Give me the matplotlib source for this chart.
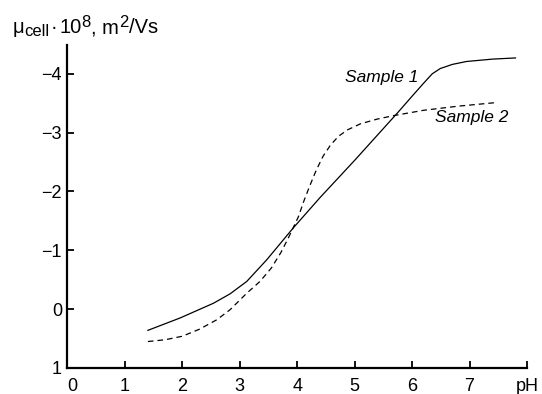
import matplotlib
matplotlib.use("Agg")
import matplotlib.pyplot as plt
from matplotlib.transforms import ScaledTranslation

plt.rcParams['font.family'] = ['Liberation Sans', 'DejaVu Sans']

# Data (pH, mobility*1e8)
s1_ph = [1.40, 1.96, 2.54, 2.83, 3.12, 3.47, 3.93, 4.40, 5.00, 5.74,
         6.00, 6.20, 6.35, 6.49, 6.70, 6.95, 7.40, 7.80]
s1_mu = [0.36, 0.15, -0.10, -0.26, -0.47, -0.84, -1.38, -1.90, -2.53, -3.33,
         -3.62, -3.84, -4.00, -4.09, -4.16, -4.21, -4.25, -4.27]

s2_ph = [1.40, 1.70, 2.00, 2.30, 2.60, 2.83, 3.12, 3.35, 3.55, 3.72, 3.85, 4.02,
         4.12, 4.22, 4.33, 4.45, 4.58, 4.72, 4.88, 5.10, 5.39, 5.68, 6.20,
         6.80, 7.45]
s2_mu = [0.55, 0.52, 0.46, 0.34, 0.18, 0.01, -0.27, -0.47, -0.70, -0.97, -1.22, -1.57,
         -1.85, -2.10, -2.36, -2.60, -2.79, -2.94, -3.05, -3.15, -3.23, -3.29, -3.38,
         -3.45, -3.51]

xticks = [0, 1, 2, 3, 4, 5, 6, 7, 8]
xtick_labels = ['0', '1', '2', '3', '4', '5', '6', '7', 'pH']
yticks = [-4, -3, -2, -1, 0, 1]
ytick_labels = ['\u22124', '\u22123', '\u22122', '\u22121', '0', '1']

W, H = 542, 394
fig = plt.figure(figsize=(W / 100, H / 100), dpi=100)
ax = fig.add_axes([0.1245, 0.066, 0.8478, 0.8198])

ax.plot(s1_ph, s1_mu, color='black', lw=0.9, solid_joinstyle='round')
ax.plot(s2_ph, s2_mu, color='black', lw=0.9, dashes=(4.5, 3.2))

ax.set_xlim(0, 8)
ax.set_ylim(1, -4.49)

ax.set_xticks(xticks)
ax.set_xticklabels(xtick_labels)
ax.set_yticks(yticks)
ax.set_yticklabels(ytick_labels)

for side in ['top', 'right']:
    ax.spines[side].set_visible(False)
for side in ['left', 'bottom']:
    ax.spines[side].set_linewidth(1.6)

ax.tick_params(axis='both', direction='in', length=5, width=1.3,
               labelsize=13)
ax.tick_params(axis='x', pad=7.5)
ax.tick_params(axis='y', pad=4)

# shift the "0" label slightly right, away from the y axis
lbl0 = ax.get_xticklabels()[0]
lbl0.set_transform(lbl0.get_transform() + ScaledTranslation(5 / 100, 0, fig.dpi_scale_trans))

ax.text(6.11, -3.93, 'Sample 1', style='italic', fontsize=12.5,
        ha='right', va='center')
ax.text(6.40, -3.25, 'Sample 2', style='italic', fontsize=12.5,
        ha='left', va='center')

# axis title built from pieces laid out one after another
main_fs, small_fs = 14.5, 12
base_y = 33.3
pieces = [  # text, baseline offset (px, + is down), size, gap after (px)
    ('\u03bc', 0.0, main_fs, 0.5),
    ('cell', 3.0, small_fs, 1.5),
    ('\u00b7', 0.0, main_fs, 1.5),
    ('10', 0.0, main_fs, 0.0),
    ('8', -6.0, small_fs, 0.5),
    (', m', 0.0, main_fs, 0.3),
    ('2', -6.0, small_fs, 0.5),
    ('/Vs', 0.0, main_fs, 0.0),
]
renderer = fig.canvas.get_renderer()
x = 12.2
for s, dy, fs, gap in pieces:
    t = fig.text(x / W, 1 - (base_y + dy) / H, s, fontsize=fs,
                 ha='left', va='baseline')
    x += t.get_window_extent(renderer).width + gap

fig.savefig('out.png', dpi=100)
